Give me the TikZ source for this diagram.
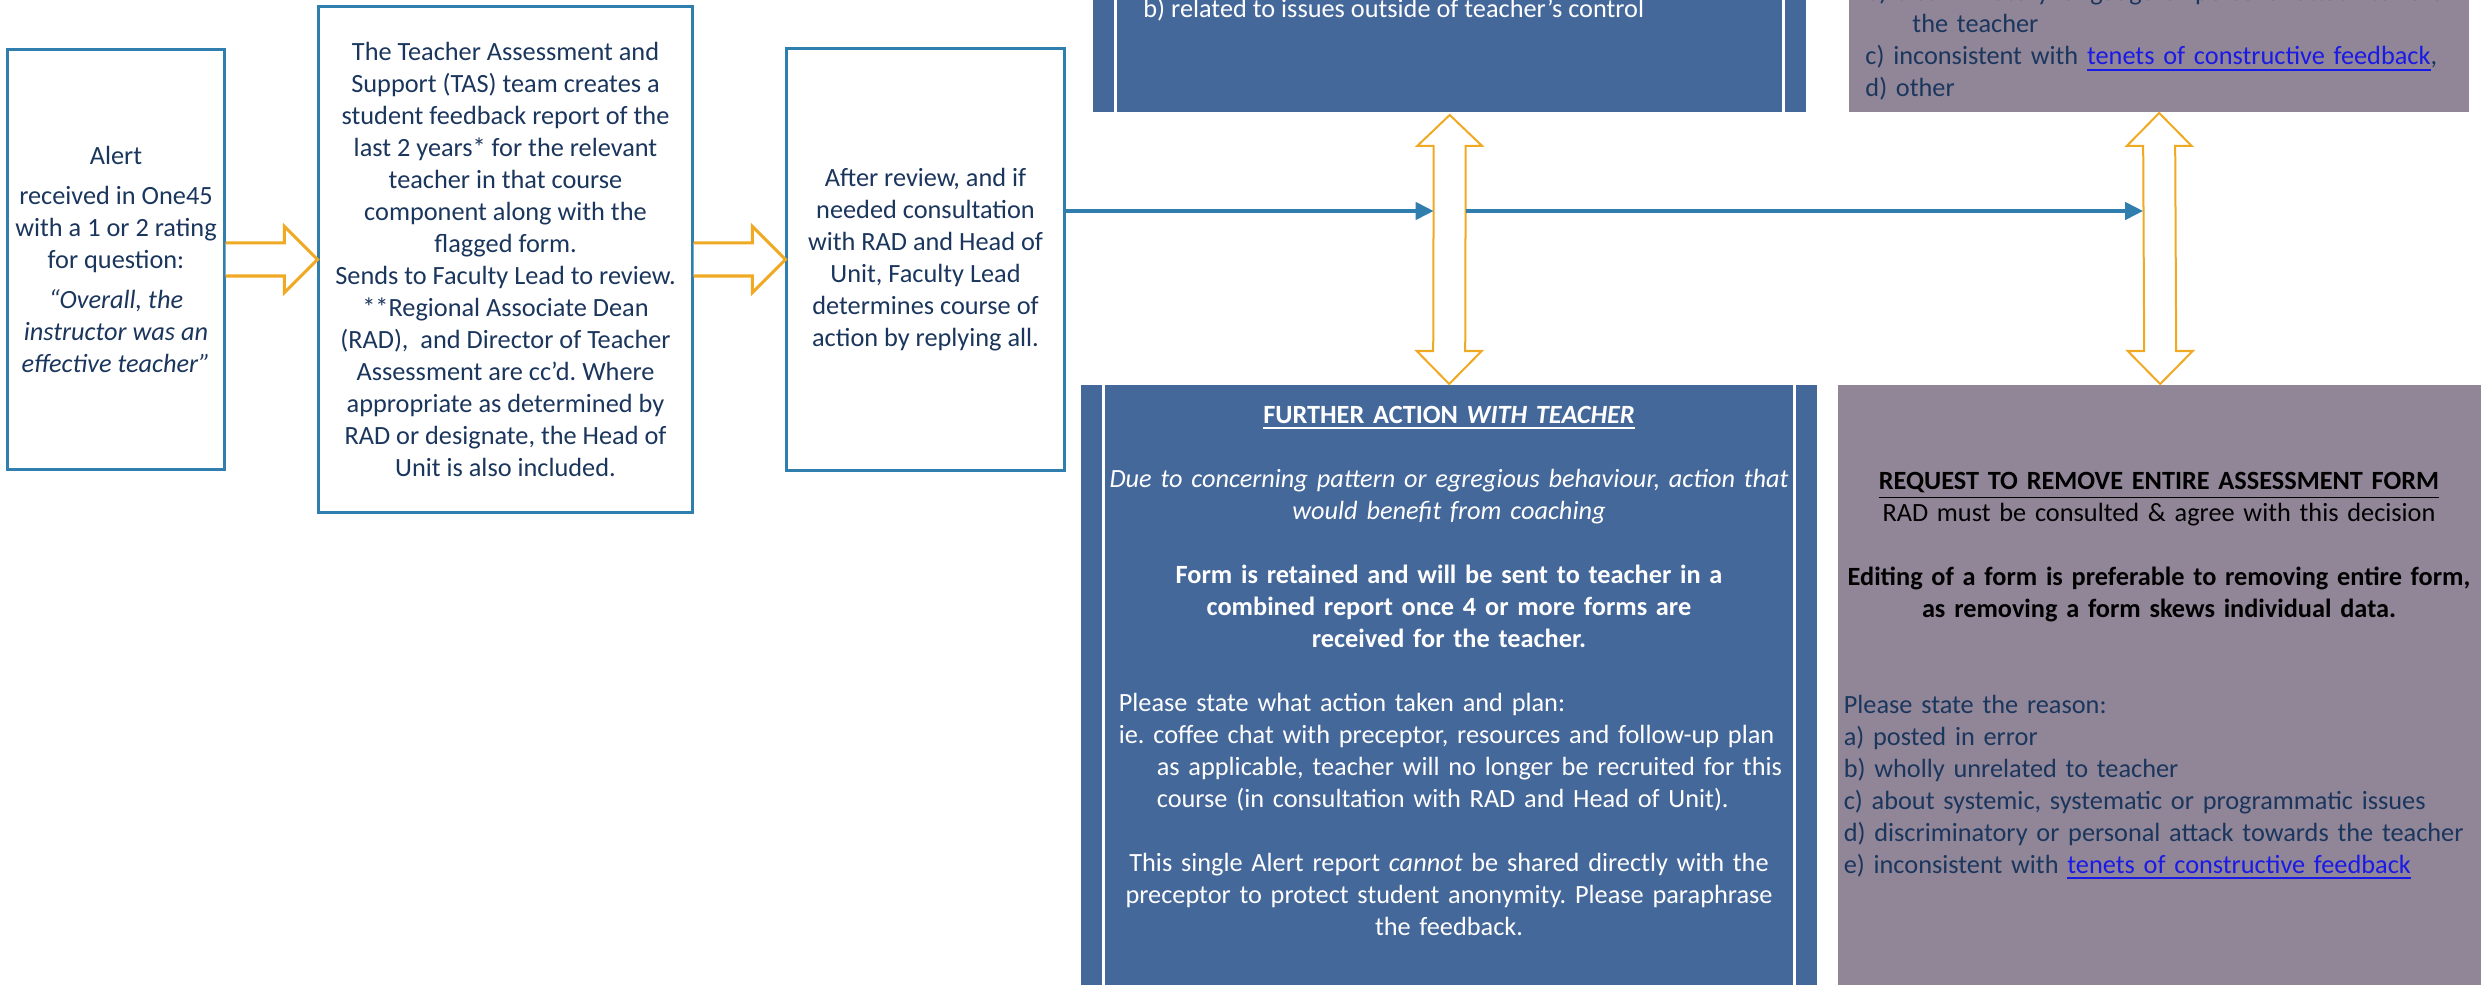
\documentclass[tikz,border=0pt]{standalone}
\usepackage{fontspec}
\setmainfont{Carlito}
\usepackage{tikz}
\usetikzlibrary{calc,arrows.meta}
\frenchspacing

\definecolor{boxline}{HTML}{2F7EAD}
\definecolor{navytext}{HTML}{1B365D}
\definecolor{goldarrow}{HTML}{F0A922}
\definecolor{slateblue}{HTML}{45689B}
\definecolor{mauve}{HTML}{918598}
\definecolor{linkblue}{HTML}{1A1AE6}

\begin{document}
\begin{tikzpicture}[x=0.01cm,y=-0.01cm,
    every node/.style={font=\fontsize{7.48}{9.1}\selectfont},
    whitebox/.style={draw=boxline,line width=0.03cm,fill=white,text=navytext,align=center,inner sep=0pt},
    processbox/.style={fill=slateblue,outer sep=0pt,inner sep=0pt},
    reasonbox/.style={fill=mauve,outer sep=0pt,inner sep=0pt},
    divider/.style={white,line width=0.03cm},
    hollow/.style={draw=goldarrow,line width=0.03cm,fill=white,line join=miter},
    flow/.style={draw=boxline,line width=0.04cm,-{Triangle[length=0.18cm,width=0.17cm]}}]
	\useasboundingbox (0,0) rectangle (2481,985);
	\clip (0,0) rectangle (2481,985);
	\fill[white] (0,0) rectangle (2481,985);

	% first column of the flow
	\node[whitebox,minimum width=2.16cm,minimum height=4.20cm] (alert) at (116,259.5)
		{Alert\\[2.2pt] received in One45\\ with a 1 or 2 rating\\ for question:\\[2.2pt]
		\textit{“Overall, the}\\ \textit{instructor was an}\\ \textit{effective teacher”}};
	\node[whitebox,minimum width=3.73cm,minimum height=5.05cm] (tas) at (505.5,259.5)
		{The Teacher Assessment and\\ Support (TAS) team creates a\\ student feedback report of the\\
		last 2 years* for the relevant\\ teacher in that course\\ component along with the\\ flagged form.\\
		Sends to Faculty Lead to review.\\ **Regional Associate Dean\\ (RAD),~ and Director of Teacher\\
		Assessment are cc’d. Where\\ appropriate as determined by\\ RAD or designate, the Head of\\ Unit is also included.};
	\node[whitebox,minimum width=2.77cm,minimum height=4.21cm] (review) at (925.5,259.5)
		{After review, and if\\ needed consultation\\ with RAD and Head of\\ Unit, Faculty Lead\\
		determines course of\\ action by replying all.};

	% outcome boxes
	\node[processbox,minimum width=7.13cm,minimum height=3.12cm,anchor=south west] (teachtop) at (1093,112) {};
	\node[processbox,minimum width=7.36cm,minimum height=7.00cm,anchor=north west] (teachbot) at (1081,385) {};
	\node[reasonbox,minimum width=6.20cm,minimum height=3.12cm,anchor=south west] (removetop) at (1849,112) {};
	\node[reasonbox,minimum width=6.44cm,minimum height=7.00cm,anchor=north west] (removebot) at (1838,385) {};
	\draw[divider] ($(teachtop.north west)+(22,0)$) -- ($(teachtop.south west)+(22,0)$);
	\draw[divider] ($(teachtop.north east)+(-23,0)$) -- ($(teachtop.south east)+(-23,0)$);
	\draw[divider] ($(teachbot.north west)+(22,0)$) -- ($(teachbot.south west)+(22,0)$);
	\draw[divider] ($(teachbot.north east)+(-23,0)$) -- ($(teachbot.south east)+(-23,0)$);

	\node[anchor=base west,text=white] (teachtoptext) at (1131,18)
		{b) related to issues outside of teacher’s control};
	\node[anchor=base west,text=navytext,text width=6.5cm,align=left] (removetoptext) at (1853,1)
		{b) discriminatory language or personal attack toward\\ \hspace*{0.47cm}the teacher\\
		c) inconsistent with \textcolor{linkblue}{\underline{tenets of constructive feedback}},\\ d) other};
	\node[anchor=base,text=white,text width=7cm] (teachbottext) at (1449,423) {%
		{\centering\textbf{\underline{FURTHER ACTION \textit{WITH TEACHER}}}\par}
		\vspace{\baselineskip}
		{\centering\itshape Due to concerning pattern or egregious behaviour, action that\\ would benefit from coaching\par}
		\vspace{\baselineskip}
		{\centering\bfseries Form is retained and will be sent to teacher in a\\ combined report once 4 or more forms are\\ received for the teacher.\par}
		\vspace{\baselineskip}
		{\raggedright\leftskip=0.2cm Please state what action taken and plan:\\
		ie. coffee chat with preceptor, resources and follow-up plan\\
		\hspace*{0.38cm}as applicable, teacher will no longer be recruited for this\\
		\hspace*{0.38cm}course (in consultation with RAD and Head of Unit).\par}
		\vspace{\baselineskip}
		{\centering This single Alert report \textit{cannot} be shared directly with the\\
		preceptor to protect student anonymity. Please paraphrase\\ the feedback.\par}};
	\node[anchor=base,text=black,text width=6.3cm] (removebottext) at (2159,489) {%
		{\centering\textbf{\underline{REQUEST TO REMOVE ENTIRE ASSESSMENT FORM}}\\ RAD must be consulted \& agree with this decision\par}
		\vspace{\baselineskip}
		{\centering\bfseries Editing of a form is preferable to removing entire form,\\ as removing a form skews individual data.\par}
		\vspace{2\baselineskip}
		{\raggedright\color{navytext}Please state the reason:\\ a) posted in error\\ b) wholly unrelated to teacher\\
		c) about systemic, systematic or programmatic issues\\ d) discriminatory or personal attack towards the teacher\\
		e) inconsistent with \textcolor{linkblue}{\underline{tenets of constructive feedback}}\par}};

	% block arrows between the first boxes
	\draw[hollow] ($(alert.east)+(0,-16.5)$) -- ($(tas.west)+(-33,-16.5)$) -- ($(tas.west)+(-33,-33)$) -- (tas.west)
		-- ($(tas.west)+(-33,33)$) -- ($(tas.west)+(-33,16.5)$) -- ($(alert.east)+(0,16.5)$);
	\draw[hollow] ($(tas.east)+(0,-16.5)$) -- ($(review.west)+(-33,-16.5)$) -- ($(review.west)+(-33,-33)$) -- (review.west)
		-- ($(review.west)+(-33,33)$) -- ($(review.west)+(-33,16.5)$) -- ($(tas.east)+(0,16.5)$);

	% two-way arrows between the outcome boxes
	\coordinate (t1) at ($(teachtop.south)+(0,3)$);
	\coordinate (b1) at ($(teachbot.north)+(0,-1)$);
	\coordinate (t2) at ($(removetop.south)+(0,1)$);
	\coordinate (b2) at ($(removebot.north)+(0,-1)$);
	\draw[hollow,line width=0.02cm] (t1) -- ($(t1)+(32.5,31)$) -- ($(t1)+(16,31)$) -- ($(b1)+(16,-33)$) -- ($(b1)+(32.5,-33)$) -- (b1)
		-- ($(b1)+(-32.5,-33)$) -- ($(b1)+(-16,-33)$) -- ($(t1)+(-16,31)$) -- ($(t1)+(-32.5,31)$) -- cycle;
	\draw[hollow,line width=0.02cm] (t2) -- ($(t2)+(32.5,33)$) -- ($(t2)+(16,33)$) -- ($(b2)+(16,-33)$) -- ($(b2)+(32.5,-33)$) -- (b2)
		-- ($(b2)+(-32.5,-33)$) -- ($(b2)+(-16,-33)$) -- ($(t2)+(-16,33)$) -- ($(t2)+(-32.5,33)$) -- cycle;

	% decision line
	\coordinate (lvl) at (0,211);
	\draw[flow] (review.east |- lvl) -- ($(t1 |- lvl)+(-16,0)$);
	\draw[flow] ($(t1 |- lvl)+(16,0)$) -- ($(t2 |- lvl)+(-16,0)$);
\end{tikzpicture}
\end{document}
